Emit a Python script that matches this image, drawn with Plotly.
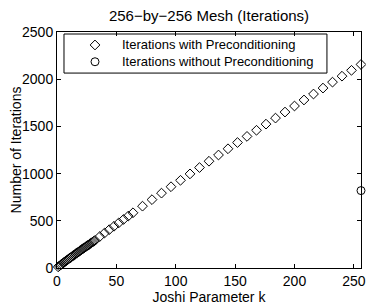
import plotly.graph_objects as go

k_pre = list(range(1, 33)) + [36, 40, 44, 48, 52, 56, 60, 64, 72, 80, 88, 96, 104, 112, 120,
                              128, 136, 144, 152, 160, 168, 176, 184, 192, 200, 208, 216,
                              224, 232, 240, 248, 256]
it_pre = [12, 22, 32, 41, 51, 60, 70, 79, 88, 98, 107, 116, 125, 134, 143, 152,
          161, 170, 179, 188, 197, 206, 214, 223, 232, 241, 249, 258, 267, 275, 284, 292,
          333, 370, 406, 442, 478, 514, 550, 585, 655, 724, 793, 861, 929, 997, 1064,
          1131, 1197, 1263, 1329, 1394, 1459, 1524, 1588, 1652, 1716, 1780, 1843,
          1906, 1969, 2032, 2094, 2156]
k_nopre = [256]
it_nopre = [820]

x_ticks = [0, 50, 100, 150, 200, 250]
y_ticks = [0, 500, 1000, 1500, 2000, 2500]

series_names = ["Iterations with Preconditioning", "Iterations without Preconditioning"]
series_symbols = ["diamond-open", "circle-open"]

FONT = "Liberation Sans, Arial, Helvetica, sans-serif"
FS = 14

fig = go.Figure()
fig.add_trace(go.Scatter(
    x=k_pre, y=it_pre, mode="markers", name=series_names[0], showlegend=False,
    marker=dict(symbol=series_symbols[0], size=7.5, color="black", line=dict(width=1, color="black")),
    cliponaxis=False,
))
fig.add_trace(go.Scatter(
    x=k_nopre, y=it_nopre, mode="markers", name=series_names[1], showlegend=False,
    marker=dict(symbol=series_symbols[1], size=8, color="black", line=dict(width=1, color="black")),
    cliponaxis=False,
))

# Manual legend (MATLAB-style box) drawn on an overlay axis in plot-fraction units
leg_x0, leg_x1, leg_y0, leg_y1 = 0.023, 0.888, 0.826, 0.9915
leg_key_x = 0.125
leg_text_x = 0.207
leg_rows_y = [0.945, 0.874]

fig.add_shape(type="rect", xref="x domain", yref="y domain",
              x0=leg_x0, x1=leg_x1, y0=leg_y0, y1=leg_y1,
              line=dict(color="black", width=1), fillcolor="white", layer="below")
for i, (nm, sym) in enumerate(zip(series_names, series_symbols)):
    fig.add_trace(go.Scatter(
        x=[leg_key_x], y=[leg_rows_y[i]], xaxis="x2", yaxis="y2", mode="markers",
        showlegend=False, hoverinfo="skip",
        marker=dict(symbol=sym, size=7.5 if i == 0 else 8, color="black",
                    line=dict(width=1, color="black")),
    ))
    fig.add_annotation(xref="x domain", yref="y domain", x=leg_text_x, y=leg_rows_y[i],
                       text=nm, showarrow=False, xanchor="left", yanchor="middle",
                       font=dict(family=FONT, size=13, color="black"))

axis_common = dict(
    showline=True, linecolor="black", linewidth=1, mirror="ticks",
    ticks="inside", ticklen=4, tickcolor="black", tickwidth=1,
    showgrid=False, zeroline=False, automargin=False,
    tickfont=dict(family=FONT, size=FS, color="black"),
)

fig.update_layout(
    width=366, height=299,
    margin=dict(l=49, r=13, t=24, b=39),
    paper_bgcolor="white", plot_bgcolor="white",
    font=dict(family=FONT, size=FS, color="black"),
    title=dict(text="256\u2212by\u2212256 Mesh (Iterations)", xref="paper", x=0.5, xanchor="center",
               yref="container", y=0.975, yanchor="middle",
               font=dict(family=FONT, size=15, color="black")),
    xaxis=dict(range=[0, 256], tickvals=x_ticks,
               title=dict(text="Joshi Parameter k", standoff=2,
                          font=dict(family=FONT, size=FS, color="black")),
               **axis_common),
    yaxis=dict(range=[0, 2500], tickvals=y_ticks,
               title=dict(text="Number of Iterations", standoff=4,
                          font=dict(family=FONT, size=FS, color="black")),
               **axis_common),
    xaxis2=dict(range=[0, 1], overlaying="x", visible=False, fixedrange=True),
    yaxis2=dict(range=[0, 1], overlaying="y", visible=False, fixedrange=True),
    showlegend=False,
)

fig.write_html("out.html")
